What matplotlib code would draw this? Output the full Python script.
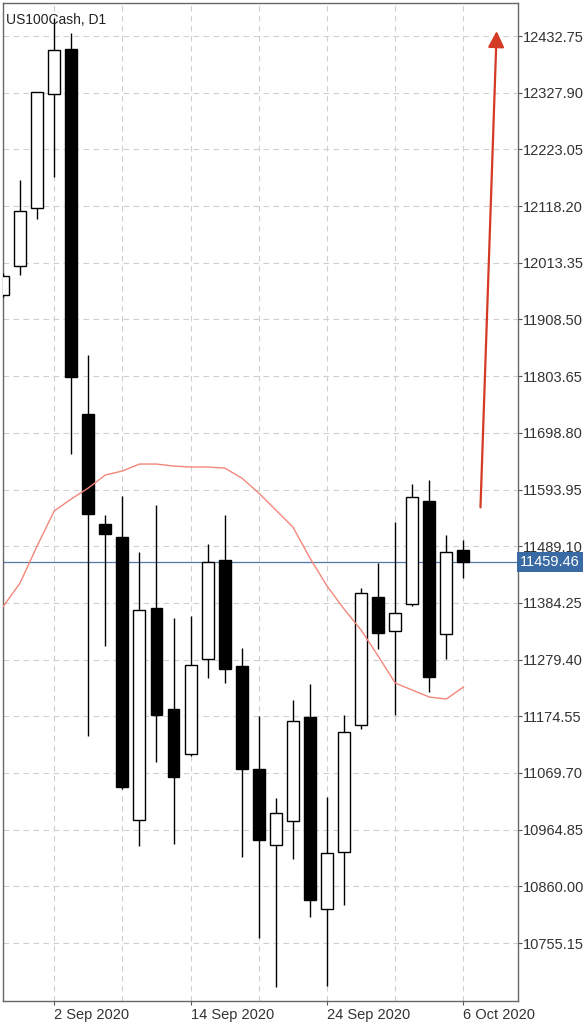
import matplotlib
matplotlib.use("Agg")
import matplotlib.pyplot as plt
from matplotlib.transforms import blended_transform_factory
import numpy as np

plt.rcParams['font.family'] = ['Liberation Sans', 'DejaVu Sans']

# daily bars, 28 Aug 2020 .. 6 Oct 2020
dates = ["28 Aug", "31 Aug", "1 Sep", "2 Sep 2020", "3 Sep", "4 Sep", "7 Sep", "8 Sep",
         "9 Sep", "10 Sep", "11 Sep", "14 Sep 2020", "15 Sep", "16 Sep", "17 Sep", "18 Sep",
         "21 Sep", "22 Sep", "23 Sep", "24 Sep 2020", "25 Sep", "28 Sep", "29 Sep", "30 Sep",
         "1 Oct", "2 Oct", "5 Oct", "6 Oct 2020"]
opens = [11953.7, 12007.9, 12114.1, 12324.9, 12408.7, 11733.6, 11530.2, 11505.6,
         10982.1, 11374.8, 11187.4, 11104.2, 11279.9, 11463.0, 11268.1, 11077.0,
         10935.9, 10980.3, 11173.7, 10818.0, 10923.5, 11157.8, 11394.6, 11331.7,
         11382.7, 11572.1, 11326.1, 11482.1]
highs = [11995.0, 12166.4, 12329.5, 12466.0, 12438.3, 11842.7, 11546.2, 11581.9,
         11478.4, 11565.3, 11355.7, 11360.0, 11493.2, 11546.8, 11300.2, 11175.0,
         11022.8, 11204.6, 11234.2, 11025.8, 11176.9, 11411.2, 11457.5, 11533.3,
         11604.7, 11611.5, 11509.3, 11500.6]
lows = [11950.0, 11990.7, 12094.3, 12172.5, 11659.1, 11138.0, 11305.0, 11040.0,
        10935.1, 11090.5, 10938.3, 11101.0, 11245.9, 11236.6, 10914.8, 10763.9,
        10673.2, 10911.1, 10803.8, 10675.6, 10825.5, 11151.0, 11299.5, 11177.4,
        11378.0, 11219.4, 11281.0, 11429.7]
closes = [11988.9, 12109.1, 12328.6, 12406.9, 11801.5, 11549.2, 11511.1, 11043.7,
          11370.5, 11176.3, 11062.8, 11269.9, 11459.3, 11261.4, 11077.6, 10945.1,
          10995.1, 11165.2, 10834.1, 10921.1, 11146.0, 11402.5, 11328.5, 11365.5,
          11579.5, 11247.2, 11478.9, 11459.46]
ma = [11377.2, 11421.0, 11489.5, 11554.2, 11576.4, 11596.7, 11620.8, 11628.2,
      11641.1, 11641.1, 11637.4, 11635.6, 11635.6, 11633.7, 11615.2, 11587.5,
      11556.0, 11524.6, 11467.3, 11415.5, 11372.9, 11334.1, 11286.0, 11236.1,
      11223.1, 11210.2, 11206.5, 11228.7]

price_ticks = [12432.75, 12327.90, 12223.05, 12118.20, 12013.35, 11908.50, 11803.65,
               11698.80, 11593.95, 11489.10, 11384.25, 11279.40, 11174.55, 11069.70,
               10964.85, 10860.00, 10755.15]
label_idx = [3, 11, 19, 27]
grid_idx = [7, 15, 23]

# forecast arrow (bar index, price)
arrow_start = (28.0, 11561.0)
arrow_end = (28.95, 12442.0)

title = "US100Cash, D1"

fig = plt.figure(figsize=(5.88, 10.24), dpi=100)
ax = fig.add_axes([3 / 588, 1 - 1001 / 1024, 515 / 588, 998 / 1024])

x = np.arange(len(opens))
o = np.array(opens)
c = np.array(closes)
h = np.array(highs)
l = np.array(lows)
up = c >= o

ax.vlines(x, l, h, color='black', linewidth=1.0, zorder=3)
ax.bar(x[up], (c - o)[up], bottom=o[up], width=0.7, facecolor='white',
       edgecolor='black', linewidth=1.0, zorder=4)
ax.bar(x[~up], (o - c)[~up], bottom=c[~up], width=0.7, facecolor='black',
       edgecolor='black', linewidth=1.0, zorder=4)

ax.plot(x, ma, color='#f4877a', linewidth=1.0, zorder=5)

last = closes[-1]
ax.axhline(last, color='#5577a8', linewidth=0.9, zorder=2)

ax.annotate("", xy=arrow_end, xytext=arrow_start,
            arrowprops=dict(arrowstyle='-|>,head_length=0.7,head_width=0.35',
                            color='#d43a24', linewidth=1.6, mutation_scale=14,
                            shrinkA=0, shrinkB=0), zorder=6)

ax.set_xlim(0.0, 30.2)
ax.set_ylim(10648.0, 12493.8)

ax.yaxis.tick_right()
ax.set_yticks(price_ticks)
ax.set_yticklabels([f"{v:.2f}" for v in price_ticks])
ax.set_xticks(label_idx)
ax.set_xticklabels([dates[i] for i in label_idx], ha='left')
ax.set_xticks(grid_idx, minor=True)

ax.tick_params(axis='y', which='major', length=3, pad=0.5, labelsize=10.5,
               labelcolor='#333333', color='#555555', width=0.8)
ax.tick_params(axis='x', which='major', length=3, pad=2, labelsize=10.5,
               labelcolor='#333333', color='#555555', width=0.8)
ax.tick_params(axis='x', which='minor', length=0)

ax.grid(True, which='both', axis='x', color='#cfcfcf', linestyle=(0, (5, 4)), linewidth=0.8)
ax.grid(True, which='major', axis='y', color='#cfcfcf', linestyle=(0, (5, 4)), linewidth=0.8)
ax.set_axisbelow(True)

for s in ax.spines.values():
    s.set_color('#666666')
    s.set_linewidth(1.0)

ax.text(0.006, 0.99, title, transform=ax.transAxes, ha='left', va='top',
        fontsize=10, color='#222222', zorder=7)

trans = blended_transform_factory(ax.transAxes, ax.transData)
ax.text(1.004, last, f"{last:.2f}", transform=trans, ha='left', va='center',
        fontsize=10.5, color='white', zorder=8, clip_on=False,
        bbox=dict(boxstyle='square,pad=0.2', facecolor='#3a6aa3', edgecolor='none'))

fig.savefig("out.png", dpi=100)
